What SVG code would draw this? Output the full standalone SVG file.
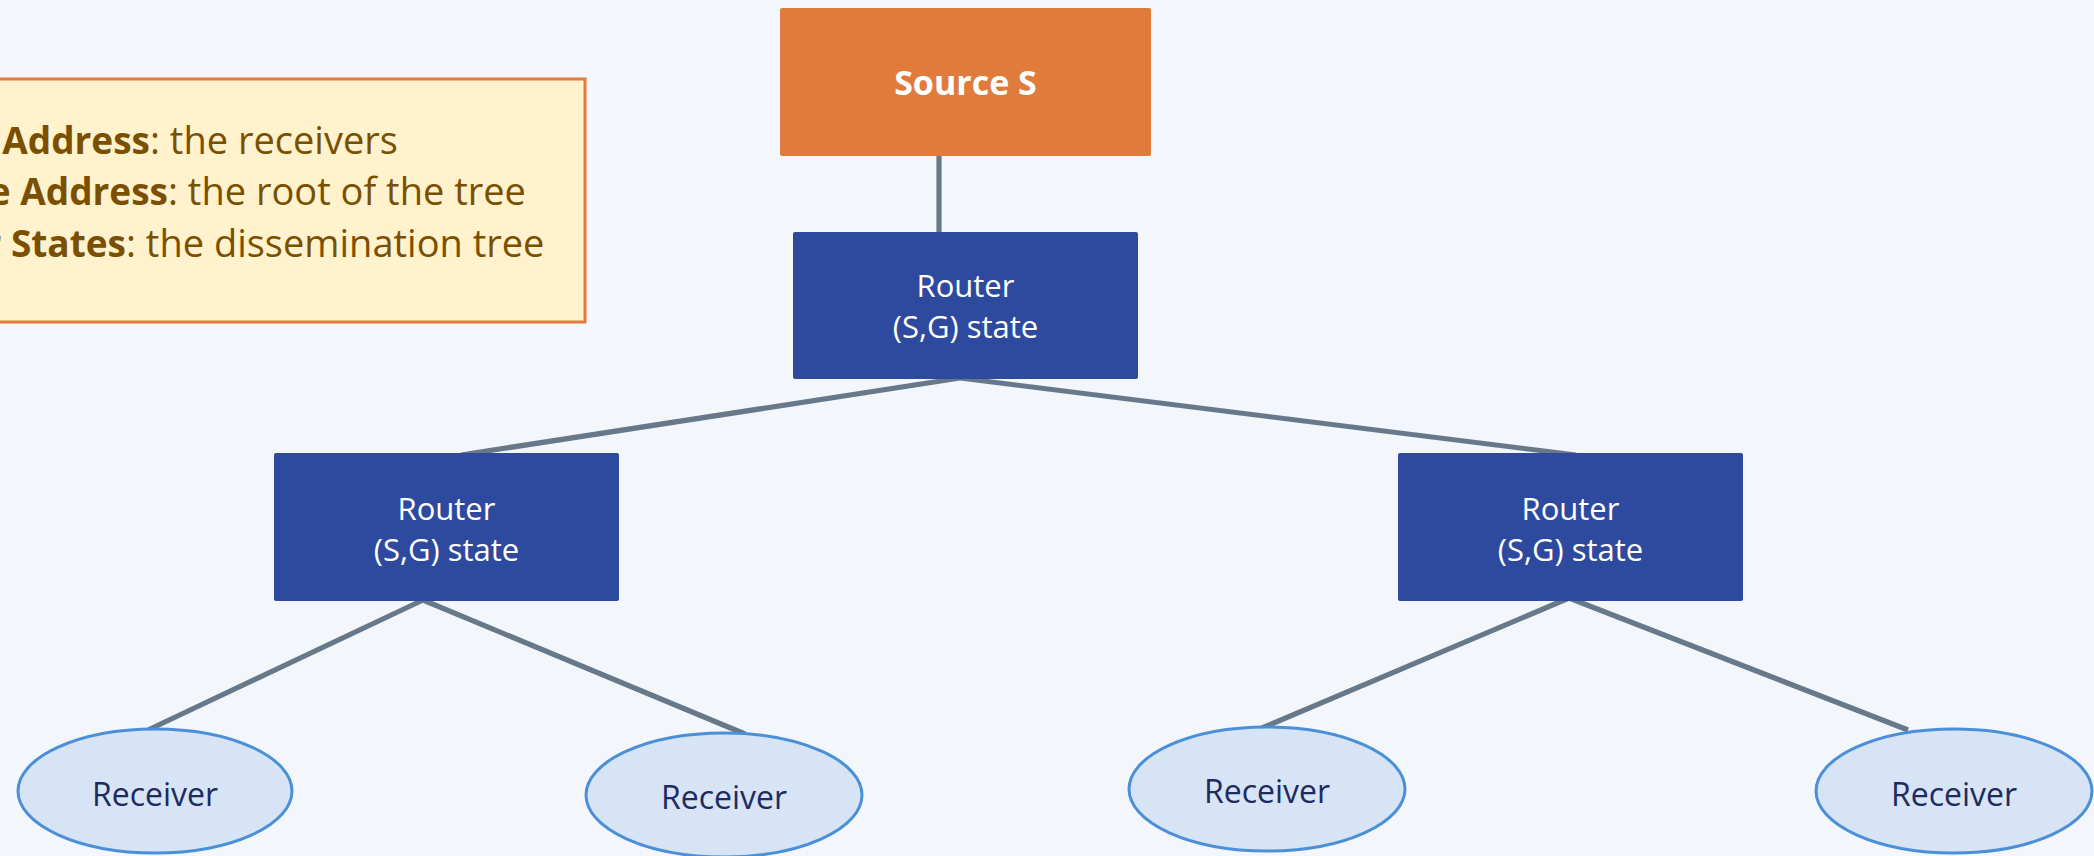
<svg xmlns="http://www.w3.org/2000/svg" width="2094" height="856" viewBox="0 0 2094 856">
<style>
.bg{fill:#F3F7FC}
.src{fill:#E07B3B}
.rtr{fill:#2E4A9E}
.rcv{fill:#D6E4F6;stroke:#4A8FD8;stroke-width:3}
.conn{stroke:#66788A;stroke-width:5.2;fill:none;stroke-linecap:butt}
.t{font-family:"Open Sans","Noto Sans",sans-serif;text-anchor:middle}
.w{fill:#FFFFFF;font-size:31px}
.wb{fill:#FFFFFF;font-size:34px;font-weight:bold}
.r{fill:#1E2A60;font-size:32px}
.lg{font-family:"Open Sans","Noto Sans",sans-serif;font-size:38px;fill:#7A5000}
.lgb{font-weight:bold;text-anchor:end;font-size:37px}
</style>
<rect class="bg" x="0" y="0" width="2094" height="856"/>
<g id="legend">
<rect x="-10" y="79" width="595" height="243" fill="#FFF2CC" stroke="#E07B3B" stroke-width="3"/>
<text class="lg lgb" x="150" y="154">Group Address</text>
<text class="lg" x="150" y="154">: the receivers</text>
<text class="lg lgb" x="168" y="205">Source Address</text>
<text class="lg" x="168" y="205">: the root of the tree</text>
<text class="lg lgb" x="126" y="257">Router States</text>
<text class="lg" x="126" y="257">: the dissemination tree</text>
</g>
<g id="connectors">
<line class="conn" x1="939" y1="155" x2="939" y2="232"/>
<line class="conn" x1="960" y1="378" x2="461" y2="455"/>
<line class="conn" x1="960" y1="378" x2="1576" y2="455"/>
<line class="conn" x1="423" y1="600" x2="148" y2="730"/>
<line class="conn" x1="423" y1="600" x2="745" y2="734"/>
<line class="conn" x1="1569" y1="598" x2="1262" y2="728"/>
<line class="conn" x1="1569" y1="598" x2="1908" y2="730"/>
</g>
<g id="source">
<rect class="src" x="780" y="8" width="371" height="148" rx="2"/>
<text class="t wb" x="965.5" y="95">Source S</text>
</g>
<g id="router-root">
<rect class="rtr" x="793" y="232" width="345" height="147" rx="2"/>
<text class="t w" x="965.5" y="297">Router</text>
<text class="t w" x="965.5" y="338">(S,G) state</text>
</g>
<g id="router-left">
<rect class="rtr" x="274" y="453" width="345" height="148" rx="2"/>
<text class="t w" x="446.5" y="520">Router</text>
<text class="t w" x="446.5" y="561">(S,G) state</text>
</g>
<g id="router-right">
<rect class="rtr" x="1398" y="453" width="345" height="148" rx="2"/>
<text class="t w" x="1570.5" y="520">Router</text>
<text class="t w" x="1570.5" y="561">(S,G) state</text>
</g>
<g id="receiver-1">
<ellipse class="rcv" cx="155" cy="791" rx="137" ry="62"/>
<text class="t r" x="155" y="806">Receiver</text>
</g>
<g id="receiver-2">
<ellipse class="rcv" cx="724" cy="795" rx="138" ry="62"/>
<text class="t r" x="724" y="809">Receiver</text>
</g>
<g id="receiver-3">
<ellipse class="rcv" cx="1267" cy="789" rx="138" ry="62"/>
<text class="t r" x="1267" y="803">Receiver</text>
</g>
<g id="receiver-4">
<ellipse class="rcv" cx="1954" cy="791" rx="138" ry="62"/>
<text class="t r" x="1954" y="806">Receiver</text>
</g>
</svg>
